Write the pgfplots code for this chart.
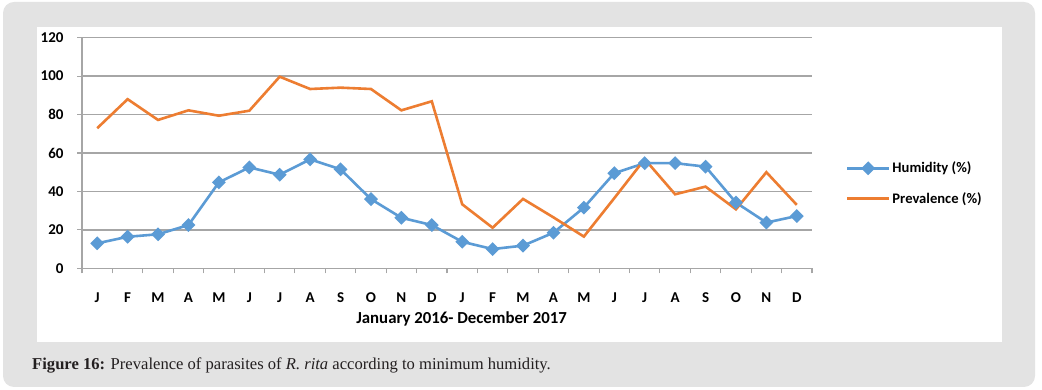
\documentclass[border=0pt]{standalone}
\usepackage{pgfplots}
\pgfplotsset{compat=1.18}
\usepackage{fontspec}
\setmainfont{Liberation Serif}
\newfontfamily\calfont{Carlito}
\definecolor{bgray}{HTML}{E3E3E3}
\definecolor{hblue}{HTML}{5B9BD5}
\definecolor{porange}{HTML}{ED7D31}
\definecolor{gridgray}{HTML}{A6A6A6}
\definecolor{captxt}{HTML}{231F20}
\begin{document}
\begin{tikzpicture}
\path (0pt,0pt) rectangle (1042pt,390pt);
\fill[bgray, rounded corners=11pt] (3pt,3pt) rectangle (1035pt,388pt);
\fill[white] (37pt,48pt) rectangle (1002pt,363pt);
\begin{axis}[
  at={(82pt,121.7pt)}, anchor=south west,
  scale only axis, width=730pt, height=230.6pt,
  xmin=-0.5, xmax=23.5, ymin=0, ymax=120,
  ytick={0,20,...,120},
  xtick={0,...,23},
  xticklabels={J,F,M,A,M,J,J,A,S,O,N,D,J,F,M,A,M,J,J,A,S,O,N,D},
  minor xtick={-0.5,0.5,...,23.5},
  axis x line*=bottom, axis y line*=left,
  axis line style={gridgray, line width=1.3pt},
  major x tick style={draw=none},
  minor x tick style={gridgray, line width=1.1pt},
  major y tick style={gridgray, line width=1.1pt},
  tick align=outside,
  major tick length=5pt, minor tick length=5pt,
  ymajorgrids, grid style={gridgray, line width=1.3pt},
  /pgf/number format/assume math mode=true,
  ticklabel style={font=\calfont\bfseries\fontsize{15}{18}\selectfont, text=black},
  xticklabel style={yshift=-16pt},
  yticklabel style={xshift=-10pt},
  xlabel={January 2016- December 2017},
  xlabel style={font=\calfont\bfseries\fontsize{16.8}{20}\selectfont, at={(axis description cs:0.52,0)}, anchor=center, yshift=-51pt},
  legend style={at={(axis description cs:1.042,0.368)}, anchor=west, draw=none, fill=none,
    font=\calfont\bfseries\fontsize{14.6}{17}\selectfont, row sep=14pt},
  legend cell align=left,
  legend image code/.code={
    \draw[#1, mark repeat=2, mark phase=2] plot coordinates {(0pt,0pt) (21pt,0pt) (42pt,0pt)};
  },
]
\addplot[hblue, line width=2.6pt, mark=square*, mark size=3.6pt, mark options={rotate=45, solid}]
  coordinates {
  (0,13.0) (1,16.4) (2,17.7) (3,22.5) (4,44.7) (5,52.5) (6,48.7) (7,56.7) (8,51.5) (9,36.0) (10,26.3) (11,22.5)
  (12,13.8) (13,10.0) (14,11.8) (15,18.5) (16,31.6) (17,49.5) (18,54.7) (19,54.7) (20,52.9) (21,34.2) (22,23.8) (23,27.2)
  };
\addlegendentry{Humidity (\%)}
\addplot[porange, line width=2.6pt]
  coordinates {
  (0,72.9) (1,88.0) (2,77.2) (3,82.2) (4,79.4) (5,82.0) (6,99.7) (7,93.3) (8,94.0) (9,93.3) (10,82.2) (11,86.9)
  (12,33.3) (13,21.1) (14,36.1) (15,26.5) (16,16.5) (17,36.5) (18,56.8) (19,38.5) (20,42.5) (21,30.7) (22,50.0) (23,33.0)
  };
\addlegendentry{Prevalence (\%)}
\end{axis}
\node[anchor=base west, text=captxt, font=\fontsize{16.6}{20}\selectfont, inner sep=0pt] at (32pt,20pt)
  {\textbf{Figure 16:} Prevalence of parasites of \textit{R. rita} according to minimum humidity.};
\end{tikzpicture}
\end{document}
